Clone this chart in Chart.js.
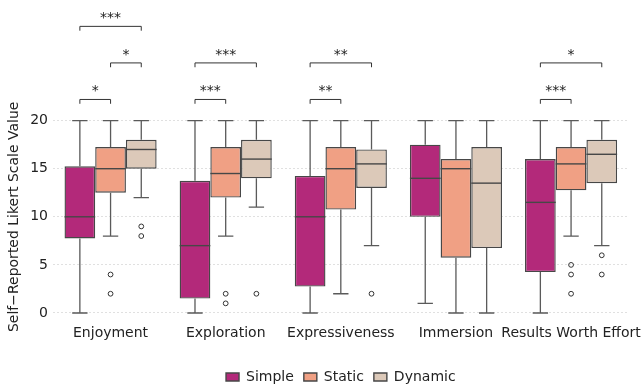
<!DOCTYPE html>
<html>
<head>
<meta charset="utf-8">
<script src="https://cdn.jsdelivr.net/npm/chart.js@4/dist/chart.umd.min.js"></script>
<style>
html,body{margin:0;padding:0;background:#fff;}
#wrap{width:644px;height:387px;position:relative;}
</style>
</head>
<body>
<div id="wrap"><canvas id="c" width="644" height="387"></canvas></div>
<script>
const categories = ['Enjoyment','Exploration','Expressiveness','Immersion','Results Worth Effort'];
const seriesNames = ['Simple','Static','Dynamic'];
const seriesColors = ['#B3297A','#F0A084','#DCC9B9'];

const simpleQ1  = [7.75, 1.5, 2.75, 10, 4.25];
const simpleMed = [10, 7, 10, 14, 11.5];
const simpleQ3  = [15.25, 13.75, 14.25, 17.5, 16];
const simpleLo  = [0, 0, 0, 1, 0];
const simpleHi  = [20, 20, 20, 20, 20];
const simpleOut = [[], [], [], [], []];

const staticQ1  = [12.5, 12, 10.75, 5.75, 12.75];
const staticMed = [15, 14.5, 15, 15, 15.5];
const staticQ3  = [17.25, 17.25, 17.25, 16, 17.25];
const staticLo  = [8, 8, 2, 0, 8];
const staticHi  = [20, 20, 20, 20, 20];
const staticOut = [[4, 2], [2, 1], [], [], [5, 4, 2]];

const dynamicQ1  = [15, 14, 13, 6.75, 13.5];
const dynamicMed = [17, 16, 15.5, 13.5, 16.5];
const dynamicQ3  = [18, 18, 17, 17.25, 18];
const dynamicLo  = [12, 11, 7, 0, 7];
const dynamicHi  = [20, 20, 20, 20, 20];
const dynamicOut = [[9, 8], [2], [2], [], [6, 4]];

const yTicks = [0, 5, 10, 15, 20];

// significance brackets
const bracketCat   = [0, 0, 0, 1, 1, 2, 2, 4, 4];
const bracketFrom  = [0, 1, 0, 0, 0, 0, 0, 0, 0];
const bracketTo    = [1, 2, 2, 1, 2, 1, 2, 1, 2];
const bracketLevel = [22.2, 26.0, 29.8, 22.2, 26.0, 22.2, 26.0, 22.2, 26.0];
const bracketLabel = ['*', '*', '***', '***', '***', '**', '**', '***', '*'];

const stats = [
  {q1: simpleQ1, med: simpleMed, q3: simpleQ3, lo: simpleLo, hi: simpleHi, out: simpleOut},
  {q1: staticQ1, med: staticMed, q3: staticQ3, lo: staticLo, hi: staticHi, out: staticOut},
  {q1: dynamicQ1, med: dynamicMed, q3: dynamicQ3, lo: dynamicLo, hi: dynamicHi, out: dynamicOut}
];

const EDGE = '#474747';

const datasets = seriesNames.map((name, s) => ({
  label: name,
  data: categories.map((c, i) => [stats[s].q1[i], stats[s].q3[i]]),
  backgroundColor: seriesColors[s],
  borderColor: EDGE,
  borderWidth: 1.4,
  borderSkipped: false,
  categoryPercentage: 0.8,
  barPercentage: 1.0
}));

const boxPlugin = {
  id: 'boxExtras',
  afterDatasetsDraw(chart) {
    const ctx = chart.ctx;
    const y = chart.scales.y;
    ctx.save();
    stats.forEach((st, s) => {
      const meta = chart.getDatasetMeta(s);
      meta.data.forEach((bar, i) => {
        const x = bar.x, w = bar.width;
        const half = w / 2;
        ctx.strokeStyle = EDGE;
        ctx.lineWidth = 1.4;
        ctx.beginPath();
        ctx.moveTo(x - half, y.getPixelForValue(st.med[i]));
        ctx.lineTo(x + half, y.getPixelForValue(st.med[i]));
        ctx.stroke();
        ctx.strokeStyle = '#5a5a5a';
        ctx.lineWidth = 1.3;
        const cap = w * 0.25;
        const segs = [[st.q1[i], st.lo[i]], [st.q3[i], st.hi[i]]];
        segs.forEach(([a, b]) => {
          if (a === b) return;
          ctx.beginPath();
          ctx.moveTo(x, y.getPixelForValue(a));
          ctx.lineTo(x, y.getPixelForValue(b));
          ctx.moveTo(x - cap, y.getPixelForValue(b));
          ctx.lineTo(x + cap, y.getPixelForValue(b));
          ctx.stroke();
        });
        ctx.strokeStyle = '#333';
        ctx.lineWidth = 1;
        st.out[i].forEach(v => {
          ctx.beginPath();
          ctx.arc(x, y.getPixelForValue(v), 2.4, 0, Math.PI * 2);
          ctx.stroke();
        });
      });
    });
    ctx.strokeStyle = '#333';
    ctx.lineWidth = 1;
    ctx.fillStyle = '#222';
    ctx.font = '14px "DejaVu Sans"';
    ctx.textAlign = 'center';
    ctx.textBaseline = 'bottom';
    bracketCat.forEach((c, k) => {
      const x1 = chart.getDatasetMeta(bracketFrom[k]).data[c].x;
      const x2 = chart.getDatasetMeta(bracketTo[k]).data[c].x;
      const ly = y.getPixelForValue(bracketLevel[k]);
      const dy = y.getPixelForValue(bracketLevel[k] - 0.45);
      ctx.beginPath();
      ctx.moveTo(x1, dy);
      ctx.lineTo(x1, ly);
      ctx.lineTo(x2, ly);
      ctx.lineTo(x2, dy);
      ctx.stroke();
      ctx.fillText(bracketLabel[k], (x1 + x2) / 2, ly - 1);
    });
    ctx.restore();
  }
};

Chart.defaults.font.family = '"DejaVu Sans"';
Chart.defaults.font.size = 14;
Chart.defaults.color = '#222';

new Chart(document.getElementById('c'), {
  type: 'bar',
  data: {labels: categories, datasets: datasets},
  options: {
    responsive: false,
    animation: false,
    layout: {padding: {top: 111, right: 12, left: 0, bottom: -7}},
    plugins: {
      legend: {
        position: 'bottom',
        fullSize: false,
        labels: {boxWidth: 13, boxHeight: 8, padding: 10, font: {size: 14}, color: '#222'}
      },
      tooltip: {enabled: false}
    },
    scales: {
      x: {
        grid: {display: false, drawTicks: false},
        border: {display: false},
        ticks: {padding: 2, font: {size: 14}, color: '#222', maxRotation: 0, autoSkip: false},
        afterFit(scale) { scale.height = 37.4; }
      },
      y: {
        min: -1,
        max: 21,
        grid: {color: '#d8d8d8', lineWidth: 0.8, drawTicks: false},
        border: {display: false, dash: [2, 2]},
        ticks: {padding: 5, font: {size: 14}, color: '#222'},
        afterBuildTicks(scale) { scale.ticks = yTicks.map(v => ({value: v})); },
        title: {display: true, text: 'Self\u2212Reported Likert Scale Value', font: {size: 14}, color: '#222', padding: {top: 6, bottom: 0}},
        afterFit(scale) { scale.width = 53; }
      }
    }
  },
  plugins: [boxPlugin]
});
</script>
</body>
</html>
